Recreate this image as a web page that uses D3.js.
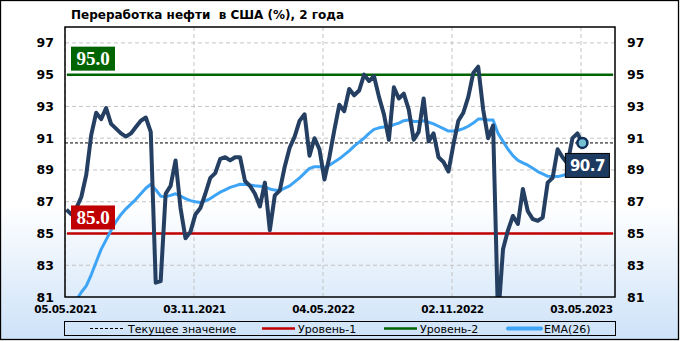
<!DOCTYPE html>
<html>
<head>
<meta charset="utf-8">
<script src="https://cdn.jsdelivr.net/npm/d3@7"></script>
<style>
  body { margin: 0; background: #fff; }
  svg text { font-family: "DejaVu Sans", Verdana, sans-serif; }
</style>
</head>
<body>
<script>
// weekly refinery utilization, first week ending 07.05.2021
var firstWeek = "07.05.2021";

var utilization = [
  86.5, 86.2, 86.6, 87.3, 88.7, 91.2, 92.6, 92.2, 92.9, 91.9,
  91.6, 91.3, 91.1, 91.3, 91.7, 92.1, 92.3, 91.4, 81.9, 82.0,
  87.5, 88.0, 89.6, 86.6, 84.7, 85.1, 86.2, 86.6, 87.5, 88.5,
  88.8, 89.7, 89.8, 89.6, 89.8, 89.8, 88.3, 88.0, 87.5, 86.7,
  88.2, 85.2, 87.4, 87.7, 89.2, 90.4, 91.1, 92.1, 92.5, 89.9,
  91.0, 90.3, 88.4, 89.8, 91.5, 93.1, 92.7, 94.1, 93.7, 94.0,
  95.0, 94.6, 94.9, 93.6, 92.5, 90.9, 94.2, 93.5, 93.8, 92.8,
  90.9, 91.4, 93.5, 90.8, 91.3, 89.8, 89.5, 88.9, 90.6, 92.1,
  92.6, 93.6, 95.1, 95.5, 92.8, 91.0, 91.8, 79.6, 84.0, 85.2,
  86.1, 85.6, 87.8, 86.4, 85.9, 85.8, 86.0, 88.2, 88.5, 90.3,
  89.8, 89.4, 91.0, 91.3, 90.7
];

var ema26 = [
  79.6, 80.2, 80.8, 81.3, 81.7, 82.4, 83.2, 84.0, 84.6, 85.2,
  85.75, 86.2, 86.55, 86.85, 87.15, 87.5, 87.85, 88.1, 87.75, 87.35,
  87.33, 87.4, 87.5, 87.35, 87.2, 87.07, 87.0, 86.95, 87.05, 87.2,
  87.4, 87.6, 87.75, 87.9, 88.0, 88.1, 88.08, 88.05, 88.0, 87.98,
  87.95, 87.8, 87.73, 87.7, 87.85, 88.0, 88.25, 88.5, 88.8, 89.1,
  89.2, 89.2, 89.15, 89.3, 89.5, 89.7, 89.95, 90.2, 90.5, 90.75,
  91.0, 91.3, 91.55, 91.65, 91.7, 91.7, 91.85, 91.95, 92.1, 92.15,
  92.05, 92.05, 92.1, 92.0, 91.9, 91.75, 91.6, 91.45, 91.45, 91.5,
  91.6, 91.75, 91.95, 92.2, 92.2, 92.15, 92.15, 91.3, 90.8, 90.3,
  89.9, 89.6, 89.45, 89.3, 89.1, 88.9, 88.75, 88.6, 88.58, 88.58,
  88.65, 88.75, 88.85, 88.95, 89.05
];

var levels = [95.0, 85.0];
var levelColors = ["#006400", "#c00000"];
var currentValue = 90.7;

var xTickLabels = ["05.05.2021", "03.11.2021", "04.05.2022", "02.11.2022", "03.05.2023"];
var xDomainLabels = ["05.05.2021", "20.06.2023"];
var yTicks = [81, 83, 85, 87, 89, 91, 93, 95, 97];
var yDomain = [81, 98];

var legendLabels = ["Текущее значение", "Уровень-1", "Уровень-2", "EMA(26)"];

var titleText = "Переработка нефти  в США (%), 2 года";

function chartBasics() {
	var margin = {top: 27, right: 67, bottom: 44, left: 65},
	    width = 682, height = 341,
	    plotW = width - margin.left - margin.right,
	    plotH = height - margin.top - margin.bottom;
	return { margin: margin, width: width, height: height, plotW: plotW, plotH: plotH };
}

function drawChart() {
	var b = chartBasics(), m = b.margin;
	var parse = d3.timeParse("%d.%m.%Y");
	var start = parse(firstWeek);
	var weeks = utilization.map(function(v, i) { return d3.timeDay.offset(start, 7 * i); });

	var svg = d3.select("body").append("svg")
	    .attr("width", b.width)
	    .attr("height", b.height);

	var defs = svg.append("defs");
	var grad = defs.append("linearGradient")
	    .attr("id", "bg").attr("x1", 0).attr("y1", 0).attr("x2", 0).attr("y2", 1);
	grad.append("stop").attr("offset", "0%").attr("stop-color", "#ffffff");
	grad.append("stop").attr("offset", "60%").attr("stop-color", "#ffffff");
	grad.append("stop").attr("offset", "100%").attr("stop-color", "#cde2f8");
	defs.append("clipPath").attr("id", "plotClip")
	  .append("rect")
	    .attr("x", 0).attr("y", 0)
	    .attr("width", b.plotW).attr("height", b.plotH);

	// outer frame
	svg.append("rect")
	    .attr("x", 0.5).attr("y", 0.5)
	    .attr("width", 678).attr("height", 339)
	    .attr("fill", "url(#bg)")
	    .attr("stroke", "#000").attr("stroke-width", 1.3);

	svg.append("text")
	    .text(titleText)
	    .attr("x", 71).attr("y", 18.5)
	    .attr("font-size", "12px").attr("font-weight", "bold")
	    .attr("xml:space", "preserve")
	    .style("white-space", "pre");

	var x = d3.scaleTime()
	    .domain(xDomainLabels.map(parse))
	    .range([0, b.plotW]);
	var y = d3.scaleLinear()
	    .domain(yDomain)
	    .range([b.plotH, 0]);

	var plot = svg.append("g")
	    .attr("transform", "translate(" + m.left + "," + m.top + ")");

	// grid
	plot.append("g").selectAll("line.h")
	    .data(yTicks.filter(function(t) { return t > yDomain[0]; }))
	  .enter().append("line")
	    .attr("x1", 0).attr("x2", b.plotW)
	    .attr("y1", function(d) { return y(d); }).attr("y2", function(d) { return y(d); })
	    .attr("stroke", "#c4c4c4").attr("stroke-dasharray", "4,3");
	plot.append("g").selectAll("line.v")
	    .data(xTickLabels.map(parse))
	  .enter().append("line")
	    .attr("x1", function(d) { return x(d); }).attr("x2", function(d) { return x(d); })
	    .attr("y1", 0).attr("y2", b.plotH)
	    .attr("stroke", "#c4c4c4").attr("stroke-dasharray", "4,3");

	// axes labels, left and right
	var yLeft = d3.axisLeft(y).tickValues(yTicks).tickSize(0).tickPadding(11).tickFormat(d3.format("d"));
	var yRight = d3.axisRight(y).tickValues(yTicks).tickSize(0).tickPadding(12).tickFormat(d3.format("d"));
	var xAxis = d3.axisBottom(x).tickValues(xTickLabels.map(parse)).tickSize(0).tickPadding(9)
	    .tickFormat(d3.timeFormat("%d.%m.%Y"));

	var gl = plot.append("g").call(yLeft);
	var gr = plot.append("g").attr("transform", "translate(" + b.plotW + ",0)").call(yRight);
	var gx = plot.append("g").attr("transform", "translate(0," + b.plotH + ")").call(xAxis);
	[gl, gr, gx].forEach(function(g) {
		g.select(".domain").remove();
		g.selectAll("text")
		    .attr("fill", "#000")
		    .style("font-family", "'DejaVu Sans', Verdana, sans-serif")
		    .style("font-weight", "bold");
	});
	gl.selectAll("text").style("font-size", "12.5px");
	gr.selectAll("text").style("font-size", "12.5px");
	gx.selectAll("text").style("font-size", "10.5px").style("letter-spacing", "-0.4px");

	var inner = plot.append("g").attr("clip-path", "url(#plotClip)");

	// level lines
	inner.selectAll("line.level")
	    .data(levels)
	  .enter().append("line")
	    .attr("x1", 2).attr("x2", b.plotW - 2)
	    .attr("y1", function(d) { return y(d); }).attr("y2", function(d) { return y(d); })
	    .attr("stroke", function(d, i) { return levelColors[i]; })
	    .attr("stroke-width", 2.5);

	// current value line
	inner.append("line")
	    .attr("x1", 0).attr("x2", b.plotW)
	    .attr("y1", y(currentValue)).attr("y2", y(currentValue))
	    .attr("stroke", "#000").attr("stroke-dasharray", "3,2");

	var line = d3.line()
	    .x(function(d, i) { return x(weeks[i]); })
	    .y(function(d) { return y(d); });

	inner.append("path")
	    .datum(ema26)
	    .attr("d", line)
	    .attr("fill", "none")
	    .attr("stroke", "#3ea4f6")
	    .attr("stroke-width", 3)
	    .attr("stroke-linejoin", "round");

	inner.append("path")
	    .datum(utilization)
	    .attr("d", line)
	    .attr("fill", "none")
	    .attr("stroke", "#243f62")
	    .attr("stroke-width", 4)
	    .attr("stroke-linejoin", "round");

	// level labels
	var lv = plot.selectAll("g.levelLabel")
	    .data(levels)
	  .enter().append("g")
	    .attr("transform", function(d) { return "translate(6," + (y(d) - 28) + ")"; });
	lv.append("rect")
	    .attr("width", 44).attr("height", 24)
	    .attr("fill", function(d, i) { return levelColors[i]; });
	lv.append("text")
	    .text(function(d) { return d3.format(".1f")(d); })
	    .attr("x", 22).attr("y", 18.5)
	    .attr("text-anchor", "middle")
	    .attr("fill", "#fff")
	    .style("font-family", "'Liberation Serif', 'Times New Roman', serif")
	    .style("font-weight", "bold")
	    .style("font-size", "19px");

	// last point marker and value box
	var lastI = utilization.length - 1;
	var lx = x(weeks[lastI]), ly = y(utilization[lastI]);
	plot.append("circle")
	    .attr("cx", lx).attr("cy", ly).attr("r", 5)
	    .attr("fill", "#74bfd2")
	    .attr("stroke", "#0f2d57").attr("stroke-width", 2.5);
	var vb = plot.append("g")
	    .attr("transform", "translate(" + (lx - 17) + "," + (ly + 10.5) + ")");
	vb.append("rect")
	    .attr("width", 44).attr("height", 24)
	    .attr("fill", "#1d3a60")
	    .attr("stroke", "#000").attr("stroke-width", 1);
	vb.append("text")
	    .text(d3.format(".1f")(utilization[lastI]))
	    .attr("x", 22).attr("y", 18)
	    .attr("text-anchor", "middle")
	    .attr("fill", "#fff")
	    .style("font-weight", "bold")
	    .style("font-size", "15px")
	    .style("letter-spacing", "-0.5px");

	// plot frame
	plot.append("rect")
	    .attr("x", 0).attr("y", 0)
	    .attr("width", b.plotW).attr("height", b.plotH)
	    .attr("fill", "none")
	    .attr("stroke", "#000").attr("stroke-width", 1.5);

	// legend
	var legend = svg.append("g").attr("transform", "translate(64,321)");
	legend.append("rect")
	    .attr("x", 0.5).attr("y", 0.5)
	    .attr("width", 551).attr("height", 14)
	    .attr("fill", "none")
	    .attr("stroke", "#000").attr("stroke-width", 1);
	var legendSamples = [
		{x: 26, stroke: "#000", w: 1, dash: "3,2"},
		{x: 198, stroke: "#c00000", w: 2.5, dash: null},
		{x: 320, stroke: "#006400", w: 2.5, dash: null},
		{x: 444, stroke: "#3ea4f6", w: 4, dash: null}
	];
	var li = legend.selectAll("g.item")
	    .data(legendLabels)
	  .enter().append("g")
	    .attr("transform", function(d, i) { return "translate(" + legendSamples[i].x + ",0)"; });
	li.append("line")
	    .attr("x1", 0).attr("x2", 33)
	    .attr("y1", 7.5).attr("y2", 7.5)
	    .attr("stroke", function(d, i) { return legendSamples[i].stroke; })
	    .attr("stroke-width", function(d, i) { return legendSamples[i].w; })
	    .attr("stroke-dasharray", function(d, i) { return legendSamples[i].dash; })
	    .attr("stroke-linecap", function(d, i) { return i === 3 ? "round" : "butt"; });
	li.append("text")
	    .text(function(d) { return d; })
	    .attr("x", function(d, i) { return i === 0 ? 38 : 36; })
	    .attr("y", 11.5)
	    .attr("font-size", "11px");
}
drawChart();
</script>
</body>
</html>
